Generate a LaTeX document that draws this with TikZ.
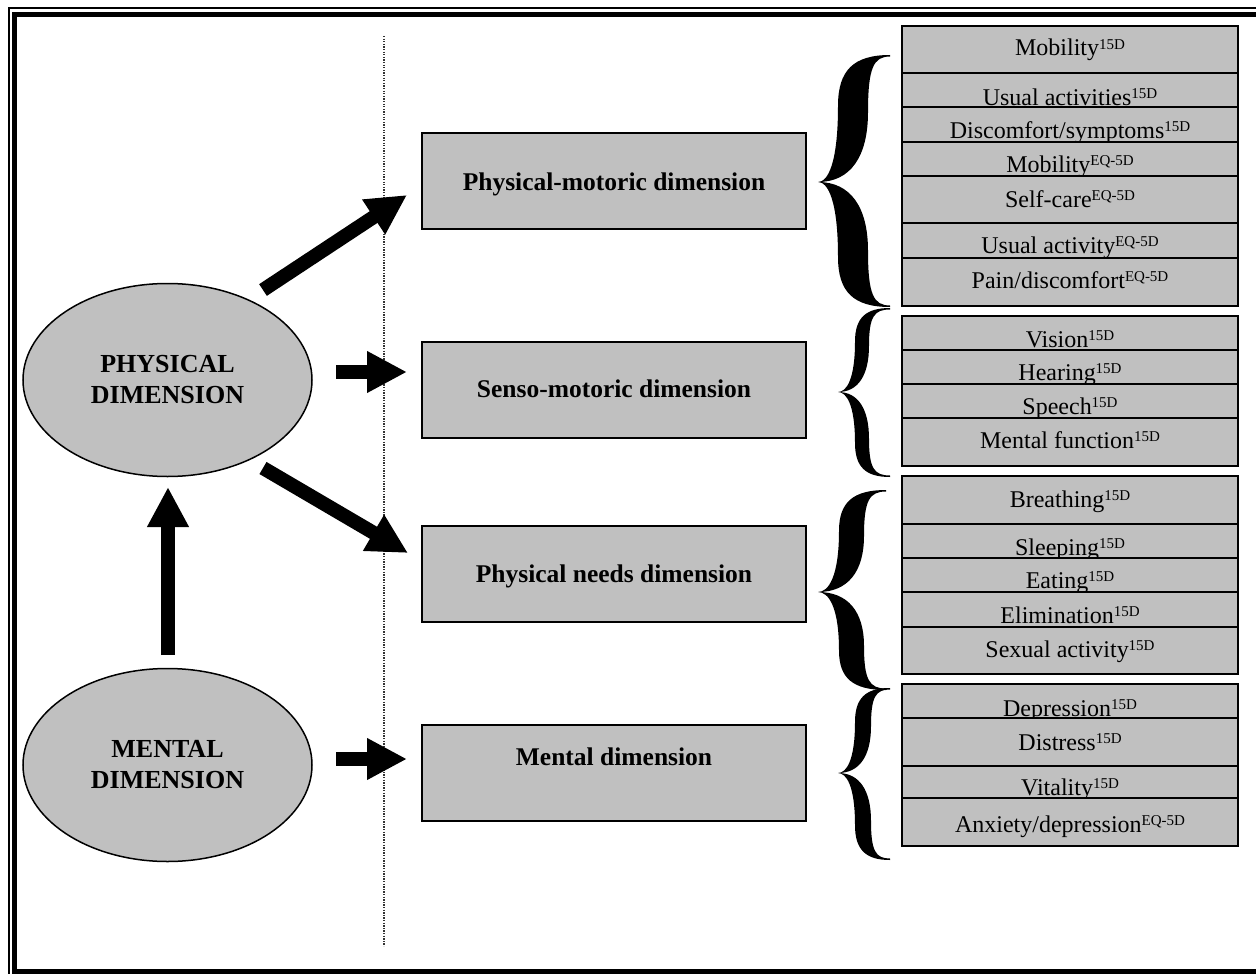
\documentclass[tikz,border=0pt]{standalone}
\usepackage{fontspec}
\setmainfont{Liberation Serif}
\usetikzlibrary{arrows.meta,shapes.geometric}
\definecolor{boxgray}{HTML}{C0C0C0}
\newcommand\sd[1]{\raisebox{6.5pt}{\fontsize{15}{15}\selectfont #1}}
\tikzset{
  rowbox/.style={draw=black, line width=2pt, fill=boxgray, rectangle, inner sep=0pt, outer sep=0pt, minimum width=336pt},
  rowtxt/.style={inner sep=0pt, anchor=base, font=\fontsize{24}{26}\selectfont},
  midbox/.style={draw=black, line width=2pt, fill=boxgray, rectangle, inner sep=0pt, minimum width=384pt, minimum height=96pt},
  midtxt/.style={inner sep=0pt, anchor=base, font=\bfseries\fontsize{25.5}{28}\selectfont},
  ell/.style={draw=black, line width=1.5pt, fill=boxgray, ellipse, inner sep=0pt, minimum width=289pt, minimum height=193pt, align=center, font=\bfseries\fontsize{26}{31}\selectfont},
  blk/.style={line width=14pt, -{Triangle[length=40pt,width=39pt]}},
  dotline/.style={line width=1.3pt, dash pattern=on 1.3pt off 1.3pt, black!80}
}
\newcommand\rowb[5]{%
  \node[rowbox, minimum height={#3-#2}] (#1) at (1070,{(#2+#3)/2}) {};
  \node[rowtxt] (#1t) at (1070,#4) {#5};}
\newcommand\bracefill[7]{% xe, y1, xt, ym, y2, xcl, xcr
\fill (#1,#2) .. controls ({#6+0.3*(#1-#6)},#2) and (#6,{#2+0.12*(#4-#2)}) .. (#6,{#2+0.4*(#4-#2)})
 .. controls (#6,{#2+0.85*(#4-#2)}) and ({#3+0.5*(#6-#3)},#4) .. (#3,#4)
 .. controls ({#3+0.5*(#6-#3)},#4) and (#6,{#4+0.15*(#5-#4)}) .. (#6,{#4+0.6*(#5-#4)})
 .. controls (#6,{#4+0.88*(#5-#4)}) and ({#6+0.3*(#1-#6)},#5) .. (#1,#5)
 -- (#1,{#5-1.5})
 .. controls ({#7+0.25*(#1-#7)},{#5-1.5}) and (#7,{#5-0.1*(#5-#4)}) .. (#7,{#4+0.55*(#5-#4)})
 .. controls (#7,{#4+0.2*(#5-#4)}) and ({#7-0.35*(#7-#3)},#4) .. (#3,#4)
 .. controls ({#7-0.35*(#7-#3)},#4) and (#7,{#4-0.2*(#4-#2)}) .. (#7,{#4-0.55*(#4-#2)})
 .. controls (#7,{#2+0.1*(#4-#2)}) and ({#7+0.25*(#1-#7)},{#2+1.5}) .. (#1,{#2+1.5})
 -- cycle;}
\begin{document}
\begin{tikzpicture}[x=1pt,y=-1pt]
\useasboundingbox (0,0) rectangle (1256,974);
\clip (0,0) rectangle (1256,974);
% frame
\draw[line width=2pt] (8.5,8.5) rectangle (1300,1000);
\draw[line width=5pt] (14.8,14.8) rectangle (1290,971.5);
% dotted divider
\coordinate (dtop) at (384,36);
\coordinate (dbot) at (384,946);
\draw[dotline] (dtop) -- (dbot);
% ellipses
\node[ell] (phys) at (167.5,380) {PHYSICAL\\DIMENSION};
\node[ell] (ment) at (167.5,765) {MENTAL\\DIMENSION};
% middle boxes
\node[midbox] (pm) at (614,181) {};
\node[midtxt] (pmt) at (614,190) {Physical-motoric dimension};
\node[midbox] (sm) at (614,389.5) {};
\node[midtxt] (smt) at (614,397) {Senso-motoric dimension};
\node[midbox] (pn) at (614,574) {};
\node[midtxt] (pnt) at (614,582) {Physical needs dimension};
\node[midbox] (md) at (614,772.5) {};
\node[midtxt] (mdt) at (614,765) {Mental dimension};
% arrows
\coordinate (a1s) at (263,290); \coordinate (a1e) at (407,195);
\coordinate (a2s) at (336,372); \coordinate (a2e) at (407,372);
\coordinate (a3s) at (263,468); \coordinate (a3e) at (408,553);
\coordinate (a4s) at (336,759); \coordinate (a4e) at (407,759);
\coordinate (a5s) at (168,655); \coordinate (a5e) at (168,487);
\draw[blk] (a1s) -- (a1e);
\draw[blk] (a2s) -- (a2e);
\draw[blk] (a3s) -- (a3e);
\draw[blk] (a4s) -- (a4e);
\draw[blk] (a5s) -- (a5e);
% braces
\bracefill{890}{55}{818}{182}{307}{838}{868}
\bracefill{890}{308}{838}{392}{477}{855}{869}
\bracefill{886}{490}{818}{592}{690}{839}{864}
\bracefill{890}{688}{838}{773}{860}{855}{871}
% right boxes
\rowb{m1}{26}{73}{56}{Mobility\sd{15D}}
\rowb{m2}{73}{107}{105}{Usual activities\sd{15D}}
\rowb{m3}{107}{142}{138}{Discomfort/symptoms\sd{15D}}
\rowb{m4}{142}{176}{172}{Mobility\sd{EQ-5D}}
\rowb{m5}{176}{223}{207}{Self-care\sd{EQ-5D}}
\rowb{m6}{223}{258}{253}{Usual activity\sd{EQ-5D}}
\rowb{m7}{258}{306}{288}{Pain/discomfort\sd{EQ-5D}}
\rowb{s1}{316}{350}{347}{Vision\sd{15D}}
\rowb{s2}{350}{384}{380}{Hearing\sd{15D}}
\rowb{s3}{384}{418}{414}{Speech\sd{15D}}
\rowb{s4}{418}{466}{448}{Mental function\sd{15D}}
\rowb{n1}{476}{524}{507}{Breathing\sd{15D}}
\rowb{n2}{524}{558}{555}{Sleeping\sd{15D}}
\rowb{n3}{558}{592}{588}{Eating\sd{15D}}
\rowb{n4}{592}{627}{623}{Elimination\sd{15D}}
\rowb{n5}{627}{674}{657}{Sexual activity\sd{15D}}
\rowb{d1}{684}{718}{716}{Depression\sd{15D}}
\rowb{d2}{718}{766}{750}{Distress\sd{15D}}
\rowb{d3}{766}{798}{795}{Vitality\sd{15D}}
\rowb{d4}{798}{846}{832}{Anxiety/depression\sd{EQ-5D}}
\end{tikzpicture}
\end{document}
